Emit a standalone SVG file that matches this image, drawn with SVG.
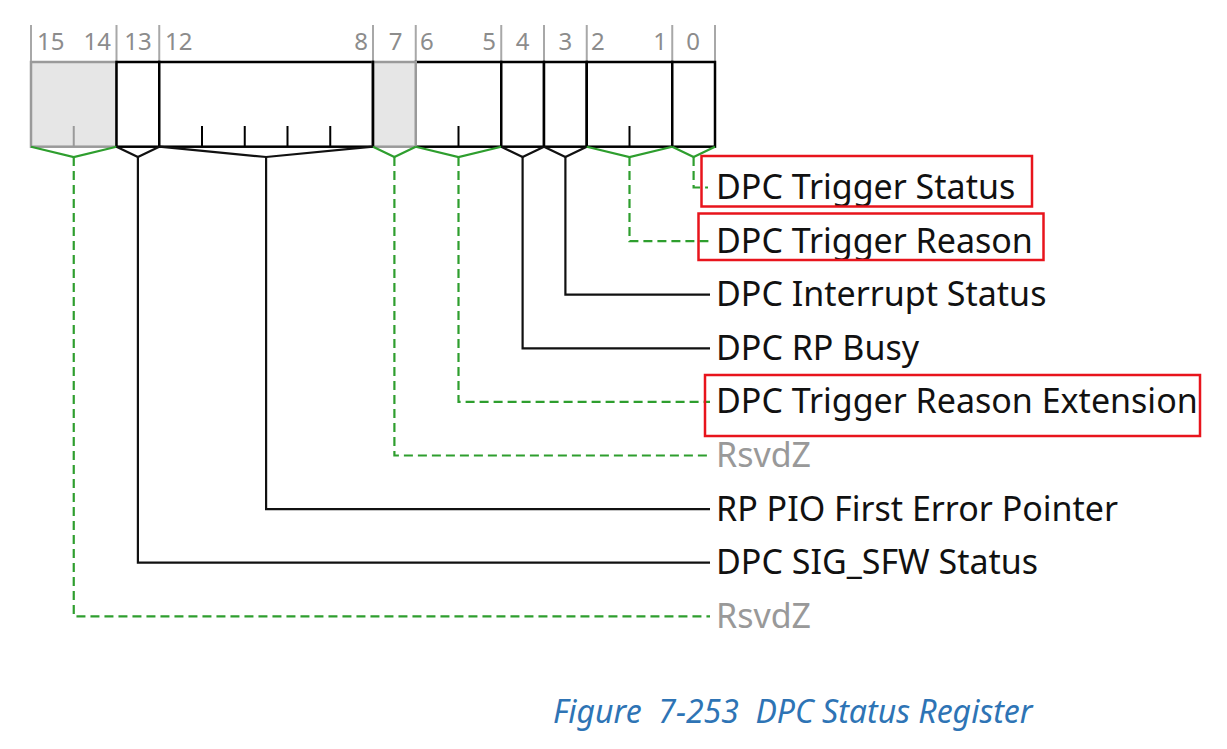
<svg xmlns="http://www.w3.org/2000/svg" width="1227" height="749" viewBox="0 0 1227 749">
<style>
.bg{fill:#ffffff}
.hdr{stroke:#a8a8a8;stroke-width:2;fill:none}
.num{font-family:"Noto Sans","Open Sans",sans-serif;font-size:24px;fill:#8c8c8c}
.fld{fill:#ffffff;stroke:#000;stroke-width:2.5}
.rsv{fill:#e6e6e6;stroke:#9a9a9a;stroke-width:2.5}
.tick{stroke:#000;stroke-width:2}
.tickg{stroke:#9a9a9a;stroke-width:2}
.lbl{font-family:"Noto Sans","Open Sans",sans-serif;font-size:34px;fill:#111}
.lblr{font-family:"Noto Sans","Open Sans",sans-serif;font-size:34px;fill:#999}
.hl{fill:none;stroke:#e8141c;stroke-width:2.5}
.cb{fill:none;stroke:#111;stroke-width:2.2}
.cg{fill:none;stroke:#2e9e2e;stroke-width:2.2}
.cgd{fill:none;stroke:#2e9e2e;stroke-width:2.2;stroke-dasharray:9 5}
.cap{font-family:"Noto Sans","Open Sans",sans-serif;font-size:32px;font-style:italic;fill:#2e74b5}
</style>
<rect class="bg" x="0" y="0" width="1227" height="749"/>
<g id="header">
<path class="hdr" d="M31 25V62M116.5 25V62M159.25 25V62M373 25V62M415.75 25V62M501.25 25V62M544 25V62M586.75 25V62M672.25 25V62M715 25V62"/>
</g>
<g id="f15_14">
<rect class="rsv" x="31" y="62" width="85.5" height="84.7"/>
<line class="tickg" x1="73.75" y1="126" x2="73.75" y2="146.7"/>
<text class="num" x="37" y="50">15</text>
<text class="num" x="111" y="50" text-anchor="end">14</text>
</g>
<g id="f13">
<rect class="fld" x="116.5" y="62" width="42.75" height="84.7"/>
<text class="num" x="137.9" y="50" text-anchor="middle">13</text>
</g>
<g id="f12_8">
<rect class="fld" x="159.25" y="62" width="213.75" height="84.7"/>
<path class="tick" d="M202 126V146.7M244.75 126V146.7M287.5 126V146.7M330.25 126V146.7"/>
<text class="num" x="165" y="50">12</text>
<text class="num" x="368" y="50" text-anchor="end">8</text>
</g>
<g id="f6_5">
<rect class="fld" x="415.75" y="62" width="85.5" height="84.7"/>
<line class="tick" x1="458.5" y1="126" x2="458.5" y2="146.7"/>
<text class="num" x="420" y="50">6</text>
<text class="num" x="496" y="50" text-anchor="end">5</text>
</g>
<g id="f4">
<rect class="fld" x="501.25" y="62" width="42.75" height="84.7"/>
<text class="num" x="522.6" y="50" text-anchor="middle">4</text>
</g>
<g id="f3">
<rect class="fld" x="544" y="62" width="42.75" height="84.7"/>
<text class="num" x="565.4" y="50" text-anchor="middle">3</text>
</g>
<g id="f2_1">
<rect class="fld" x="586.75" y="62" width="85.5" height="84.7"/>
<line class="tick" x1="629.5" y1="126" x2="629.5" y2="146.7"/>
<text class="num" x="591" y="50">2</text>
<text class="num" x="667" y="50" text-anchor="end">1</text>
</g>
<g id="f0">
<rect class="fld" x="672.25" y="62" width="42.75" height="84.7"/>
<text class="num" x="693" y="50" text-anchor="middle">0</text>
</g>
<g id="f7">
<rect class="rsv" x="373" y="62" width="42.75" height="84.7"/>
<line x1="373" y1="60.75" x2="373" y2="148" stroke="#000" stroke-width="2.5"/>
<text class="num" x="395.5" y="50" text-anchor="middle">7</text>
</g>
<g id="connectors">
<polyline class="cg" points="31,146.7 73.75,157 116.5,146.7"/>
<polyline class="cgd" points="73.75,157 73.75,616.3 710,616.3"/>
<polyline class="cb" points="116.5,146.7 137.9,157 159.25,146.7"/>
<polyline class="cb" points="137.9,157 137.9,562.7 710,562.7"/>
<polyline class="cb" points="159.25,146.7 266.1,157 373,146.7"/>
<polyline class="cb" points="266.1,157 266.1,509.1 710,509.1"/>
<polyline class="cg" points="373,146.7 394.4,157 415.75,146.7"/>
<polyline class="cgd" points="394.4,157 394.4,455.5 710,455.5"/>
<polyline class="cg" points="415.75,146.7 458.5,157 501.25,146.7"/>
<polyline class="cgd" points="458.5,157 458.5,401.9 710,401.9"/>
<polyline class="cb" points="501.25,146.7 522.6,157 544,146.7"/>
<polyline class="cb" points="522.6,157 522.6,348.3 710,348.3"/>
<polyline class="cb" points="544,146.7 565.4,157 586.75,146.7"/>
<polyline class="cb" points="565.4,157 565.4,294.7 710,294.7"/>
<polyline class="cg" points="586.75,146.7 629.5,157 672.25,146.7"/>
<polyline class="cgd" points="629.5,157 629.5,241.1 710,241.1"/>
<polyline class="cg" points="672.25,146.7 693.6,157 715,146.7"/>
<polyline class="cgd" points="693.6,157 693.6,187.5 708,187.5"/>
</g>
<g id="lbl_trigger_status">
<text class="lbl" x="716" y="199">DPC Trigger Status</text>
<rect class="hl" x="701.5" y="156" width="330.5" height="50.5"/>
</g>
<g id="lbl_trigger_reason">
<text class="lbl" x="716" y="252.6">DPC Trigger Reason</text>
<rect class="hl" x="698.5" y="213.5" width="345" height="46.5"/>
</g>
<g id="lbl_interrupt_status">
<text class="lbl" x="716" y="306.2">DPC Interrupt Status</text>
</g>
<g id="lbl_rp_busy">
<text class="lbl" x="716" y="359.8">DPC RP Busy</text>
</g>
<g id="lbl_trigger_reason_ext">
<text class="lbl" x="716" y="413.4">DPC Trigger Reason Extension</text>
<rect class="hl" x="705" y="375" width="495" height="61"/>
</g>
<g id="lbl_rsvdz_7">
<text class="lblr" x="716" y="467">RsvdZ</text>
</g>
<g id="lbl_rp_pio">
<text class="lbl" x="716" y="520.6">RP PIO First Error Pointer</text>
</g>
<g id="lbl_sig_sfw">
<text class="lbl" x="716" y="574.2">DPC SIG_SFW Status</text>
</g>
<g id="lbl_rsvdz_15_14">
<text class="lblr" x="716" y="627.8">RsvdZ</text>
</g>
<g id="caption">
<text class="cap" x="553" y="723" xml:space="preserve">Figure  7-253  DPC Status Register</text>
</g>
</svg>
